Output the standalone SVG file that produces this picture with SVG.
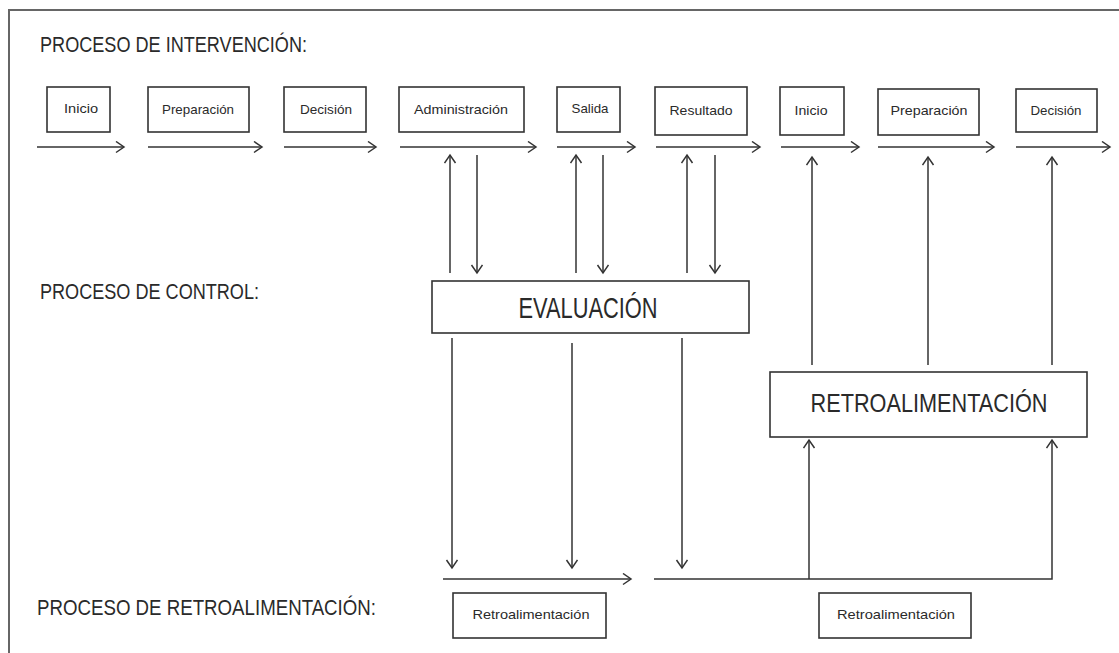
<svg xmlns="http://www.w3.org/2000/svg" width="1119" height="653" viewBox="0 0 1119 653">
<style>
.box{fill:#fff;stroke:#333;stroke-width:1.6}
.t{font-family:"Liberation Sans",Arial,sans-serif;fill:#2a2a2a;text-anchor:middle}
.s{font-size:13.5px}
.b{font-size:30px}
.b2{font-size:26.5px}
.h{font-family:"Liberation Sans",Arial,sans-serif;fill:#2a2a2a;font-size:22px}
.c{fill:none;stroke:#333;stroke-width:1.5}
.frame{fill:none;stroke:#666;stroke-width:2}
</style>
<defs>
<marker id="ah" markerUnits="userSpaceOnUse" markerWidth="12" markerHeight="14" refX="9" refY="6" orient="auto">
<path d="M1,0.5 L9,6 L1,11.5" fill="none" stroke="#333" stroke-width="1.5"/>
</marker>
</defs>
<rect width="1119" height="653" fill="#fff"/>
<path class="frame" d="M9,653 V10 H1119"/>
<g id="labels">
<text class="h" x="40" y="52" textLength="267" lengthAdjust="spacingAndGlyphs">PROCESO DE INTERVENCIÓN:</text>
<text class="h" x="40" y="299" textLength="219" lengthAdjust="spacingAndGlyphs">PROCESO DE CONTROL:</text>
<text class="h" x="37" y="615" textLength="339" lengthAdjust="spacingAndGlyphs">PROCESO DE RETROALIMENTACIÓN:</text>
</g>
<g id="n-inicio1"><rect class="box" x="47" y="87" width="63" height="45"/><text class="t s" x="81" y="113" textLength="34" lengthAdjust="spacingAndGlyphs">Inicio</text></g>
<g id="n-preparacion1"><rect class="box" x="148" y="87" width="101" height="45"/><text class="t s" x="198" y="114" textLength="72" lengthAdjust="spacingAndGlyphs">Preparación</text></g>
<g id="n-decision1"><rect class="box" x="284" y="87" width="82" height="45"/><text class="t s" x="326" y="114" textLength="52" lengthAdjust="spacingAndGlyphs">Decisión</text></g>
<g id="n-administracion"><rect class="box" x="399" y="87" width="125" height="45"/><text class="t s" x="461" y="114" textLength="94" lengthAdjust="spacingAndGlyphs">Administración</text></g>
<g id="n-salida"><rect class="box" x="557" y="87" width="63" height="45"/><text class="t s" x="590" y="113" textLength="37" lengthAdjust="spacingAndGlyphs">Salida</text></g>
<g id="n-resultado"><rect class="box" x="655" y="87" width="92" height="48"/><text class="t s" x="701" y="115" textLength="63" lengthAdjust="spacingAndGlyphs">Resultado</text></g>
<g id="n-inicio2"><rect class="box" x="780" y="87" width="64" height="48"/><text class="t s" x="811" y="115" textLength="33" lengthAdjust="spacingAndGlyphs">Inicio</text></g>
<g id="n-preparacion2"><rect class="box" x="878" y="89" width="101" height="46"/><text class="t s" x="929" y="115" textLength="77" lengthAdjust="spacingAndGlyphs">Preparación</text></g>
<g id="n-decision2"><rect class="box" x="1016" y="89" width="81" height="43"/><text class="t s" x="1056" y="115" textLength="51" lengthAdjust="spacingAndGlyphs">Decisión</text></g>
<g id="n-evaluacion"><rect class="box" x="432" y="281" width="317" height="52"/><text class="t b" x="588" y="318" textLength="139" lengthAdjust="spacingAndGlyphs">EVALUACIÓN</text></g>
<g id="n-retroalimentacion"><rect class="box" x="770" y="372" width="317" height="65"/><text class="t b2" x="929" y="412" textLength="237" lengthAdjust="spacingAndGlyphs">RETROALIMENTACIÓN</text></g>
<g id="n-retro1"><rect class="box" x="453" y="593" width="153" height="45"/><text class="t s" x="531" y="619" textLength="117" lengthAdjust="spacingAndGlyphs">Retroalimentación</text></g>
<g id="n-retro2"><rect class="box" x="819" y="593" width="152" height="45"/><text class="t s" x="896" y="619" textLength="118" lengthAdjust="spacingAndGlyphs">Retroalimentación</text></g>
<g id="connectors">
<path class="c" marker-end="url(#ah)" d="M37,147 H124"/>
<path class="c" marker-end="url(#ah)" d="M148,147 H262"/>
<path class="c" marker-end="url(#ah)" d="M284,147 H376"/>
<path class="c" marker-end="url(#ah)" d="M400,147 H536"/>
<path class="c" marker-end="url(#ah)" d="M557,147 H635"/>
<path class="c" marker-end="url(#ah)" d="M656,147 H760"/>
<path class="c" marker-end="url(#ah)" d="M781,147 H859"/>
<path class="c" marker-end="url(#ah)" d="M878,147 H994"/>
<path class="c" marker-end="url(#ah)" d="M1016,147 H1110"/>
<path class="c" marker-end="url(#ah)" d="M450,273 V155"/>
<path class="c" marker-end="url(#ah)" d="M477,155 V273"/>
<path class="c" marker-end="url(#ah)" d="M576,273 V155"/>
<path class="c" marker-end="url(#ah)" d="M603,155 V273"/>
<path class="c" marker-end="url(#ah)" d="M687,273 V155"/>
<path class="c" marker-end="url(#ah)" d="M715,155 V273"/>
<path class="c" marker-end="url(#ah)" d="M812,365 V157"/>
<path class="c" marker-end="url(#ah)" d="M928,365 V157"/>
<path class="c" marker-end="url(#ah)" d="M1052,365 V157"/>
<path class="c" marker-end="url(#ah)" d="M452,338 V568"/>
<path class="c" marker-end="url(#ah)" d="M572,343 V568"/>
<path class="c" marker-end="url(#ah)" d="M682,338 V568"/>
<path class="c" marker-end="url(#ah)" d="M443,579 H631"/>
<path class="c" marker-end="url(#ah)" d="M654,579 H1052 V440"/>
<path class="c" marker-end="url(#ah)" d="M809,579 V440"/>
</g>
</svg>
